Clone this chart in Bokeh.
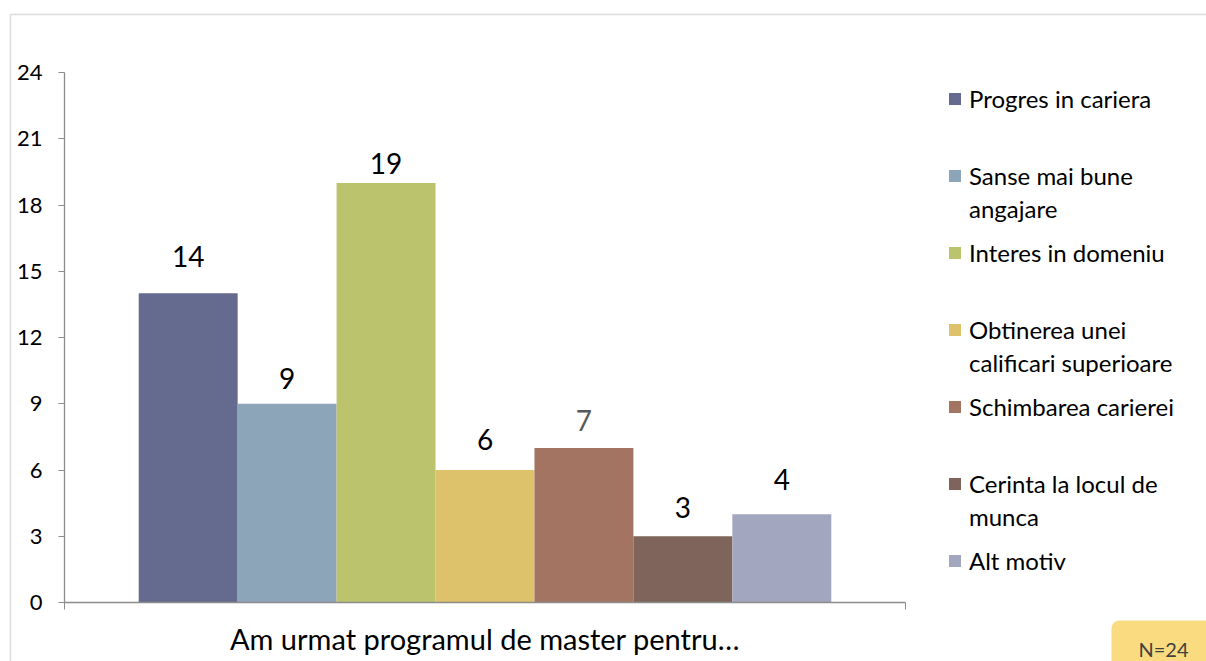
from bokeh.plotting import figure
from bokeh.models import (ColumnDataSource, Range1d, FixedTicker, Legend, LegendItem,
                          BoxAnnotation, Label)
from bokeh.core.properties import value
from bokeh.embed import file_html
from bokeh.resources import INLINE

# ---- data ----
category = "Am urmat programul de master pentru…"
series = ["Progres in cariera", "Sanse mai bune angajare", "Interes in domeniu",
          "Obtinerea unei calificari superioare", "Schimbarea carierei",
          "Cerinta la locul de munca", "Alt motiv"]
# legend text as it is wrapped in the reference (first line, second line)
series_line1 = ["Progres in cariera", "Sanse mai bune", "Interes in domeniu",
                "Obtinerea unei", "Schimbarea carierei", "Cerinta la locul de", "Alt motiv"]
series_line2 = ["", "angajare", "", "calificari superioare", "", "munca", ""]
counts = [14, 9, 19, 6, 7, 3, 4]
y_ticks = [0, 3, 6, 9, 12, 15, 18, 21, 24]
y_max = 24
n_label = "N=24"

# ---- styles ----
colors = ["#646B8E", "#8DA5B8", "#BBC36C", "#DEC26B", "#A47462", "#7E645B", "#A2A6BE"]
label_colors = ["#000000", "#000000", "#000000", "#000000", "#595959", "#000000", "#000000"]
label_gaps = [-26, -15, -9, -20, -17, -18, -24]
FONT = "Lato"

# ---- layout (pixels) ----
W, H = 1206, 661
left_px, right_px, top_px, zero_px = 64, 905, 72, 602

n = len(series)
w = 1.0 / (n + 1.5)          # Excel-like gap width of 150%
xs = [0.75 * w + (i + 0.5) * w for i in range(n)]

x_unit = right_px - left_px
y_unit = (zero_px - top_px) / y_max
x_range = Range1d(-left_px / x_unit, (W - left_px) / x_unit)
y_range = Range1d(-(H - zero_px) / y_unit, y_max + top_px / y_unit)

src = ColumnDataSource(dict(x=xs, top=counts, lab=[str(c) for c in counts],
                            lcol=label_colors, off=label_gaps))

p = figure(width=W, height=H, output_backend="svg", toolbar_location=None,
           x_range=x_range, y_range=y_range,
           min_border_left=0, min_border_right=0, min_border_top=0, min_border_bottom=0)
p.outline_line_color = None
p.xgrid.visible = False
p.ygrid.visible = False
p.background_fill_color = "white"
p.border_fill_color = "white"

renderers = []
for i in range(n):
    r = p.vbar(x=xs[i], top=counts[i], width=w, bottom=0, fill_color=colors[i], line_color=None)
    renderers.append(r)

p.text(x="x", y="top", text="lab", source=src, text_align="center", text_baseline="bottom",
       y_offset="off", text_font=value(FONT), text_font_size="28px", text_color="lcol")

# y axis
ya = p.yaxis[0]
ya.fixed_location = 0
ya.bounds = (0, y_max)
ya.ticker = FixedTicker(ticks=y_ticks)
ya.axis_line_color = "#8C8C8C"
ya.axis_line_width = 1.3
ya.major_tick_line_color = "#8C8C8C"
ya.major_tick_out = 6
ya.major_tick_in = 0
ya.minor_tick_line_color = None
ya.major_label_text_font = FONT
ya.major_label_text_font_size = "22px"
ya.major_label_text_color = "#000000"
ya.major_label_standoff = 16

# x axis
xa = p.xaxis[0]
xa.fixed_location = 0
xa.bounds = (0, 1)
xa.ticker = FixedTicker(ticks=[0.5], minor_ticks=[0, 1])
xa.major_label_overrides = {0.5: category}
xa.axis_line_color = "#8C8C8C"
xa.axis_line_width = 1.3
xa.major_tick_line_color = None
xa.minor_tick_line_color = "#8C8C8C"
xa.minor_tick_out = 7
xa.minor_tick_in = 0
xa.major_label_text_font = FONT
xa.major_label_text_font_size = "29px"
xa.major_label_text_color = "#000000"
xa.major_label_standoff = 11

legend_style = dict(padding=0, margin=0, label_height=30, label_text_font=FONT,
                    label_text_font_size="24px", label_text_color="#000000",
                    border_line_color=None, background_fill_alpha=0)

# legend: first lines with colour swatches
items1 = [LegendItem(label=series_line1[i], renderers=[renderers[i]]) for i in range(n)]
legend1 = Legend(items=items1, location=(947, 86), glyph_width=15, glyph_height=15,
                 label_standoff=7, spacing=47, **legend_style)
p.add_layout(legend1, "center")

# legend: wrapped second lines (no swatch)
wrapped = [i for i in range(n) if series_line2[i]]
items2 = [LegendItem(label=series_line2[i], renderers=[renderers[i]]) for i in wrapped]
legend2 = Legend(items=items2, location=(969, 130), glyph_width=0, glyph_height=15,
                 label_standoff=0, spacing=124, **legend_style)
p.add_layout(legend2, "center")

# outer chart border
p.add_layout(BoxAnnotation(left=10, right=3000, top=H - 14, bottom=-300,
                           left_units="screen", right_units="screen",
                           top_units="screen", bottom_units="screen",
                           fill_color=None, line_color="#8C8C8C", line_width=1.5))

# N=24 note
p.add_layout(Label(x=1111, y=H - 620, x_units="screen", y_units="screen", text=n_label,
                   text_font=FONT, text_font_size="20px", text_color="#404040",
                   text_baseline="top", text_align="left",
                   background_fill_color="#FADB7F", padding=(27, 40, 16, 30),
                   border_radius=8))

open("out.html", "w").write(file_html(p, INLINE))
